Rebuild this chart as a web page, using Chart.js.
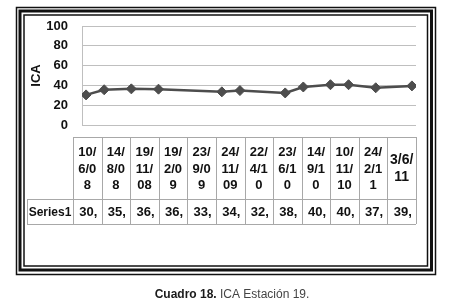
<!DOCTYPE html>
<html>
<head>
<meta charset="utf-8">
<script src="https://cdn.jsdelivr.net/npm/chart.js@4"></script>
<style>
  html, body { margin: 0; padding: 0; background: #fff; }
  #wrap { width: 450px; height: 306px; }
</style>
</head>
<body>
<div id="wrap"><canvas id="myChart" width="450" height="306"></canvas></div>
<script>
// sample dates (table header, wrapped as in the original sheet)
const tickLabels = [
  ["10/", "6/0", "8"], ["14/", "8/0", "8"], ["19/", "11/", "08"], ["19/", "2/0", "9"],
  ["23/", "9/0", "9"], ["24/", "11/", "09"], ["22/", "4/1", "0"], ["23/", "6/1", "0"],
  ["14/", "9/1", "0"], ["10/", "11/", "10"], ["24/", "2/1", "1"], ["3/6/", "11"]
];
// months since the first sample (the axis is a date axis in months)
const monthOffsets = [0, 2, 5, 8, 15, 17, 22, 24, 27, 29, 32, 36];
const seriesName = "Series1";
const values = [30.4, 35.6, 36.5, 36.2, 33.5, 34.8, 32.4, 38.4, 40.7, 40.7, 37.6, 39.5];
const yTicks = [0, 20, 40, 60, 80, 100];

const BOLD = "bold 13px 'Liberation Sans', Arial, sans-serif";

// frame, data table and caption around the plot
const decor = {
  id: "decor",
  beforeDraw(chart) {
    const c = chart.ctx;
    c.save();
    c.fillStyle = "#fff";
    c.fillRect(0, 0, chart.width, chart.height);
    c.strokeStyle = "#111";
    c.lineWidth = 1.5;
    c.strokeRect(16.5, 7.5, 419, 267);
    c.lineWidth = 3;
    c.strokeRect(20, 11, 411.5, 259);
    c.lineWidth = 1.5;
    c.strokeRect(24, 15, 403.5, 251);
    c.restore();
  },
  afterDraw(chart) {
    const c = chart.ctx;
    const left = 73, right = 416, lab = 27;
    const top = 137, mid = 199, bot = 224;
    const w = (right - left) / tickLabels.length;
    c.save();
    c.strokeStyle = "#a8a8a8";
    c.lineWidth = 1;
    c.beginPath();
    c.moveTo(left, top + 0.5); c.lineTo(right, top + 0.5);
    c.moveTo(lab, mid + 0.5); c.lineTo(right, mid + 0.5);
    c.moveTo(lab, bot + 0.5); c.lineTo(right, bot + 0.5);
    c.moveTo(lab + 0.5, mid); c.lineTo(lab + 0.5, bot);
    for (let i = 0; i <= tickLabels.length; i++) {
      const x = Math.round(left + i * w) + 0.5;
      c.moveTo(x, top); c.lineTo(x, bot);
    }
    c.stroke();

    c.fillStyle = "#111";
    c.textAlign = "center";
    c.textBaseline = "middle";
    tickLabels.forEach((lines, i) => {
      const cx = left + (i + 0.5) * w;
      const last = i === tickLabels.length - 1;
      c.font = last ? "bold 14px 'Liberation Sans', Arial, sans-serif" : BOLD;
      const lh = last ? 17 : 16.5;
      const y0 = (top + mid) / 2 - (lines.length - 1) * lh / 2;
      lines.forEach((t, k) => c.fillText(t, cx, y0 + k * lh + 1));
      c.font = BOLD;
      c.fillText(Math.trunc(values[i]) + ",", cx + 1, (mid + bot) / 2 + 1);
    });
    c.font = "bold 12px 'Liberation Sans', Arial, sans-serif";
    c.fillText(seriesName, (lab + left) / 2, (mid + bot) / 2 + 1);

    // caption
    c.textAlign = "left";
    c.textBaseline = "alphabetic";
    const b = "bold 12px 'Liberation Sans', Arial, sans-serif";
    const r = "12px 'Liberation Sans', Arial, sans-serif";
    const p1 = "Cuadro 18. ", p2 = "ICA Estación 19.";
    c.font = b; const w1 = c.measureText(p1).width;
    c.font = r; const w2 = c.measureText(p2).width;
    const x0 = 232 - (w1 + w2) / 2;
    c.font = b; c.fillStyle = "#1a1a1a"; c.fillText(p1, x0, 298);
    c.font = r; c.fillStyle = "#444"; c.fillText(p2, x0 + w1, 298);
    c.restore();
  }
};

const ctx = document.getElementById("myChart").getContext("2d");
const myChart = new Chart(ctx, {
  type: "line",
  data: {
    datasets: [
      {
        label: seriesName,
        data: monthOffsets.map((m, i) => ({ x: m, y: values[i] })),
        borderColor: "#4d4d4d",
        backgroundColor: "#4d4d4d",
        borderWidth: 2.5,
        pointStyle: "rectRot",
        pointRadius: 5,
        pointBorderWidth: 1,
        tension: 0,
      },
    ],
  },
  options: {
    responsive: false,
    animation: false,
    layout: { padding: { left: 0, top: 26, right: 34, bottom: 181 } },
    plugins: { legend: { display: false }, tooltip: { enabled: false } },
    scales: {
      x: { type: "linear", display: false, min: -0.45, max: 36.45 },
      y: {
        min: 0,
        max: 100,
        afterFit: (s) => { s.width = 82; },
        afterBuildTicks: (s) => { s.ticks = yTicks.map((v) => ({ value: v })); },
        grid: { color: "#bfbfbf", lineWidth: 1, drawTicks: false },
        border: { color: "#bfbfbf" },
        ticks: { padding: 14, color: "#111", font: { family: "'Liberation Sans', Arial, sans-serif", size: 13, weight: "bold" } },
        title: {
          display: true,
          text: "ICA",
          color: "#111",
          padding: { top: 29, bottom: 0 },
          font: { family: "'Liberation Sans', Arial, sans-serif", size: 13, weight: "bold" },
        },
      },
    },
  },
  plugins: [decor],
});
</script>
</body>
</html>
